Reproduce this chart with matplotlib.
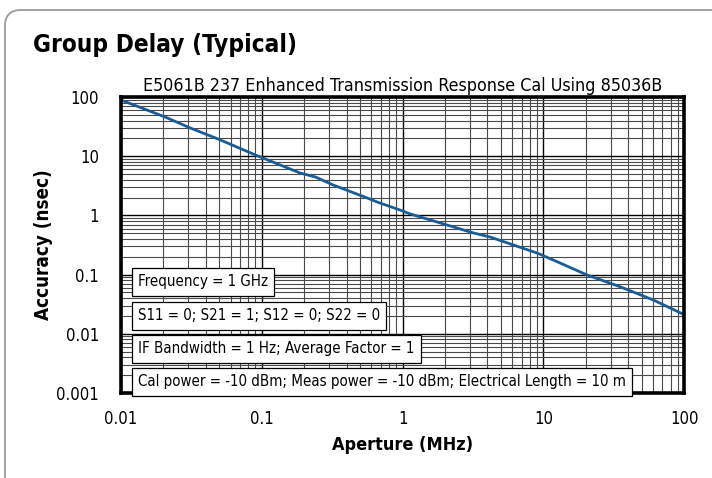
import numpy as np
import matplotlib
matplotlib.use("Agg")
import matplotlib.pyplot as plt
from matplotlib import font_manager
from matplotlib.patches import FancyBboxPatch
from matplotlib.ticker import LogLocator, FixedLocator, NullFormatter

# values
aperture = [0.01, 0.0206, 0.031, 0.049, 0.09, 0.187, 0.24, 0.32, 0.56, 0.66, 0.96,
            1.13, 1.85, 3.18, 4.2, 5.8, 9.06, 11.7, 20.5, 35.2, 60.6, 100]
accuracy = [89, 45.9, 30, 19.5, 10.5, 5.2, 4.46, 3.27, 1.97, 1.68, 1.23,
            1.06, 0.745, 0.505, 0.43, 0.33, 0.23, 0.177, 0.098, 0.062, 0.037, 0.021]

x_ticks = [0.01, 0.1, 1, 10, 100]
x_labels = ["0.01", "0.1", "1", "10", "100"]
y_ticks = [0.001, 0.01, 0.1, 1, 10, 100]
y_labels = ["0.001", "0.01", "0.1", "1", "10", "100"]

notes = ["Frequency = 1 GHz",
         "S11 = 0; S21 = 1; S12 = 0; S22 = 0",
         "IF Bandwidth = 1 Hz; Average Factor = 1",
         "Cal power = -10 dBm; Meas power = -10 dBm; Electrical Length = 10 m"]

# look for a narrow / condensed face on the system
narrow = [f for f in font_manager.fontManager.ttflist
          if 'narrow' in f.fname.lower() or 'condensed' in f.fname.lower()]
if narrow:
    fam = narrow[0].name
    plt.rcParams['font.stretch'] = narrow[0].stretch
else:
    fam = 'DejaVu Sans'
plt.rcParams['font.family'] = [fam, 'DejaVu Sans']

fig = plt.figure(figsize=(7.12, 4.78), dpi=100)

# rounded outer frame (pixel coordinates)
frame = FancyBboxPatch((5, -20), 760, 488, boxstyle="round,pad=0,rounding_size=16",
                       transform=None, fill=False, edgecolor='#9a9a9a', linewidth=1.3)
fig.add_artist(frame)

ax = fig.add_axes([0.170, 0.178, 0.791, 0.619])
ax.set_xscale('log')
ax.set_yscale('log')
ax.set_xlim(0.01, 100)
ax.set_ylim(0.001, 100)

ax.plot(aperture, accuracy, color='#1a5c96', linewidth=2.0, zorder=3)

ax.xaxis.set_major_locator(FixedLocator(x_ticks))
ax.set_xticklabels(x_labels)
ax.yaxis.set_major_locator(FixedLocator(y_ticks))
ax.set_yticklabels(y_labels)
ax.xaxis.set_minor_locator(LogLocator(base=10, subs=np.arange(2, 10), numticks=20))
ax.yaxis.set_minor_locator(LogLocator(base=10, subs=np.arange(2, 10), numticks=20))
ax.xaxis.set_minor_formatter(NullFormatter())
ax.yaxis.set_minor_formatter(NullFormatter())
ax.tick_params(which='both', length=0, labelsize=12)
ax.tick_params(axis='x', pad=12)
ax.tick_params(axis='y', pad=16)
ax.grid(True, which='major', color='black', linewidth=1.0)
ax.grid(True, which='minor', color='#4a4a4a', linewidth=0.8)

for s in ax.spines.values():
    s.set_linewidth(2.6)
    s.set_zorder(5)

ax.set_xlabel("Aperture (MHz)", fontsize=13, fontweight='bold', labelpad=6)
ax.set_ylabel("Accuracy (nsec)", fontsize=13.5, fontweight='bold', labelpad=2)
ax.set_title("E5061B 237 Enhanced Transmission Response Cal Using 85036B",
             fontsize=12.8, pad=4)

fig.text(33 / 712, 1 - 45 / 478, "Group Delay (Typical)", fontsize=17.5,
         fontweight='bold', va='center', ha='left')

# annotation boxes (axes fraction positions of box centres)
box_y = [0.375, 0.260, 0.149, 0.037]
for txt, yy in zip(notes, box_y):
    ax.text(0.030, yy, txt, transform=ax.transAxes, fontsize=10.8, va='center', ha='left',
            zorder=6, clip_on=False,
            bbox=dict(boxstyle='square,pad=0.42', facecolor='white', edgecolor='black',
                      linewidth=0.9))

fig.savefig("out.png", dpi=100)
